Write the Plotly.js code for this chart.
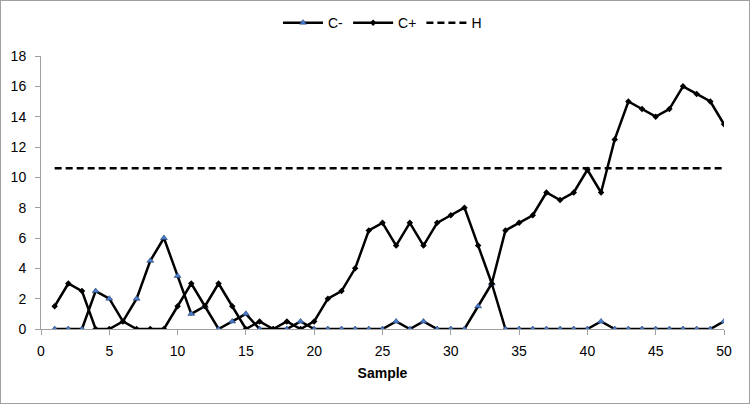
<!DOCTYPE html>
<html>
<head>
<meta charset="utf-8">
<script src="https://cdn.plot.ly/plotly-3.0.1.min.js"></script>
<style>
  html, body { margin: 0; padding: 0; background: #fff; }
  #wrap { position: relative; width: 750px; height: 404px; }
  #chart { position: absolute; left: 0; top: 0; width: 750px; height: 404px; }
  #frame { position: absolute; left: 0; top: 0; width: 750px; height: 404px;
           box-sizing: border-box; border: 1px solid #a0a0a0; pointer-events: none; }
</style>
</head>
<body>
<div id="wrap">
  <div id="chart"></div>
  <div id="frame"></div>
</div>
<script>
// sample numbers on the x axis
const samples = [1,2,3,4,5,6,7,8,9,10,11,12,13,14,15,16,17,18,19,20,
                 21,22,23,24,25,26,27,28,29,30,31,32,33,34,35,36,37,38,39,40,
                 41,42,43,44,45,46,47,48,49,50];

// lower cusum C-
const cMinus = [0,0,0,2.5,2,0.5,2,4.5,6,3.5,
                1,1.5,0,0.5,1,0,0,0,0.5,0,
                0,0,0,0,0,0.5,0,0.5,0,0,
                0,1.5,3,0,0,0,0,0,0,0,
                0.5,0,0,0,0,0,0,0,0,0.5];

// upper cusum C+
const cPlus = [1.5,3,2.5,0,0,0.5,0,0,0,1.5,
               3,1.5,3,1.5,0,0.5,0,0.5,0,0.5,
               2,2.5,4,6.5,7,5.5,7,5.5,7,7.5,
               8,5.5,3,6.5,7,7.5,9,8.5,9,10.5,
               9,12.5,15,14.5,14,14.5,16,15.5,15,13.5];

// decision interval H
const hLimit = 10.6;

const xTicks = [0,5,10,15,20,25,30,35,40,45,50];
const yTicks = [0,2,4,6,8,10,12,14,16,18];

const fontFamily = '"Liberation Sans", Arial, sans-serif';

var traces = [
  {
    x: samples,
    y: cMinus,
    name: 'C-',
    mode: 'lines+markers',
    line: {color: '#000000', width: 2.5},
    marker: {symbol: 'triangle-up', size: 6, color: '#4a7fd0', line: {color: '#1f3864', width: 0.6}}
  },
  {
    x: samples,
    y: cPlus,
    name: 'C+',
    mode: 'lines+markers',
    line: {color: '#000000', width: 2.5},
    marker: {symbol: 'diamond', size: 5, color: '#000000'}
  },
  {
    x: [samples[0], samples[samples.length - 1]],
    y: [hLimit, hLimit],
    name: 'H',
    mode: 'lines',
    line: {color: '#000000', width: 2.5, dash: '7px,4px'}
  }
];

var layout = {
  width: 750,
  height: 404,
  margin: {l: 41, r: 26, t: 56, b: 75, autoexpand: false},
  paper_bgcolor: '#ffffff',
  plot_bgcolor: '#ffffff',
  font: {family: fontFamily, size: 14, color: '#000000'},
  showlegend: true,
  legend: {
    orientation: 'h',
    x: 0.5, xanchor: 'center',
    yref: 'container',
    y: 0.943, yanchor: 'middle',
    font: {family: fontFamily, size: 14, color: '#000000'},
    itemwidth: 40,
    traceorder: 'normal'
  },
  xaxis: {
    range: [0, 50],
    tickvals: xTicks,
    ticks: 'outside',
    ticklen: 5,
    tickcolor: '#a0a0a0',
    ticklabelstandoff: 4,
    showline: true,
    linecolor: '#a0a0a0',
    linewidth: 1,
    showgrid: false,
    zeroline: false,
    tickfont: {size: 14},
    title: {text: '<b>Sample</b>', font: {size: 14}, standoff: 10}
  },
  yaxis: {
    range: [0, 18],
    tickvals: yTicks,
    ticks: 'outside',
    ticklen: 5,
    tickcolor: '#a0a0a0',
    ticklabelstandoff: 6,
    showline: true,
    linecolor: '#a0a0a0',
    linewidth: 1,
    showgrid: false,
    zeroline: false,
    tickfont: {size: 14}
  }
};

Plotly.newPlot('chart', traces, layout, {staticPlot: true, displayModeBar: false});
</script>
</body>
</html>
